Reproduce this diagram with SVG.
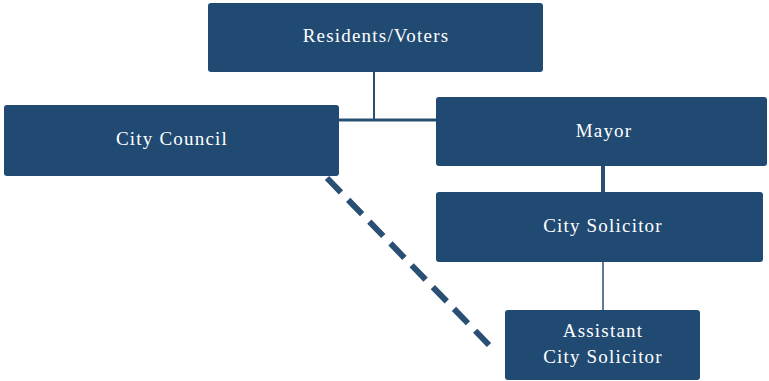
<svg xmlns="http://www.w3.org/2000/svg" width="769" height="381" viewBox="0 0 769 381">
<style>
.box{fill:#214a73;}
.lbl{fill:#ffffff;font-family:"Liberation Serif",serif;font-size:19px;text-anchor:middle;letter-spacing:1.2px;}
.ln{stroke:#2a4f74;fill:none;}
</style>
<rect width="769" height="381" fill="#ffffff"/>
<g id="connectors">
<line class="ln" x1="374" y1="72" x2="374" y2="120" stroke-width="2"/>
<line class="ln" x1="339" y1="120" x2="436" y2="120" stroke-width="3"/>
<line class="ln" x1="603" y1="166" x2="603" y2="192" stroke-width="4"/>
<line class="ln" x1="603" y1="262" x2="603" y2="310" stroke-width="1.5"/>
<line class="ln" x1="327" y1="178" x2="489" y2="345" stroke-width="6" stroke-dasharray="20 10.4" stroke="#2b4a72"/>
</g>
<g id="residents">
<rect class="box" x="208" y="3" width="335" height="69" rx="3"/>
<text class="lbl" x="376" y="42">Residents/Voters</text>
</g>
<g id="council">
<rect class="box" x="4" y="105" width="335" height="71" rx="3"/>
<text class="lbl" x="172" y="145">City Council</text>
</g>
<g id="mayor">
<rect class="box" x="436" y="97" width="331" height="69" rx="3"/>
<text class="lbl" x="604" y="137">Mayor</text>
</g>
<g id="solicitor">
<rect class="box" x="436" y="192" width="327" height="70" rx="3"/>
<text class="lbl" x="603" y="232">City Solicitor</text>
</g>
<g id="assistant">
<rect class="box" x="505" y="310" width="195" height="70" rx="3"/>
<text class="lbl" x="603" y="337">Assistant</text>
<text class="lbl" x="603" y="363">City Solicitor</text>
</g>
</svg>
